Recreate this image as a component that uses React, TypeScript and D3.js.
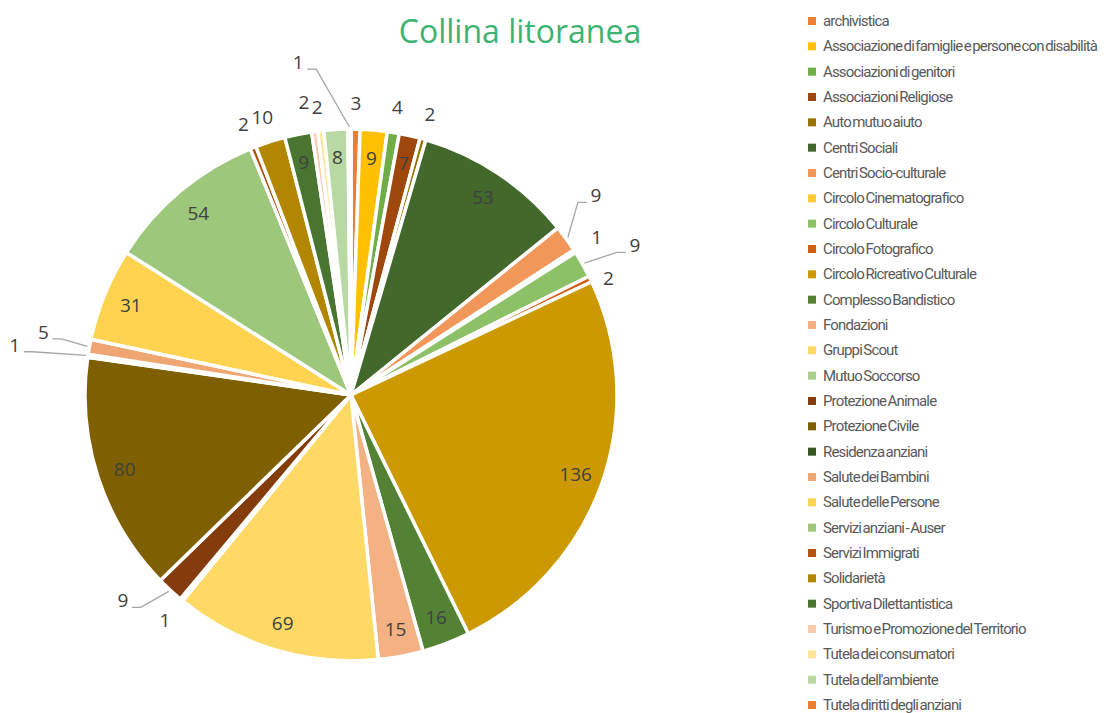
import { useEffect, useRef } from "react";
import * as d3 from "d3";

const CATEGORIES = [
  "archivistica",
  "Associazione di famiglie e persone con disabilità",
  "Associazioni di genitori",
  "Associazioni Religiose",
  "Auto mutuo aiuto",
  "Centri Sociali",
  "Centri Socio-culturale",
  "Circolo Cinematografico",
  "Circolo Culturale",
  "Circolo Fotografico",
  "Circolo Ricreativo Culturale",
  "Complesso Bandistico",
  "Fondazioni",
  "Gruppi Scout",
  "Mutuo Soccorso",
  "Protezione Animale",
  "Protezione Civile",
  "Residenza anziani",
  "Salute dei Bambini",
  "Salute delle Persone",
  "Servizi anziani - Auser",
  "Servizi Immigrati",
  "Solidarietà",
  "Sportiva Dilettantistica",
  "Turismo e Promozione del Territorio",
  "Tutela dei consumatori",
  "Tutela dell'ambiente",
  "Tutela diritti degli anziani",
];

const VALUES = [
  3, 9, 4, 7, 2, 53, 9, 1, 9, 2, 136, 16, 15, 69, 1, 9, 80, 1, 5, 31, 54, 2, 10, 9, 2, 2, 8, 1,
];

const COLORS = [
  "#ed7d31", "#ffc000", "#70ad47", "#9e480e", "#997300", "#43682b", "#f1975a",
  "#ffcd33", "#8cc168", "#d26012", "#cc9a00", "#548235", "#f4b183", "#ffd966",
  "#a9d18e", "#843c0c", "#7f6000", "#375623", "#f0a672", "#ffd34f", "#9dc87c",
  "#b5520e", "#b38600", "#4a7530", "#f8cbad", "#ffe699", "#b9d9a4", "#ed7d31",
];

// labels drawn inside the slice
const INSIDE = new Set([1, 3, 5, 10, 11, 12, 13, 16, 19, 20, 23, 26]);

// labels moved away by hand, with a leader line: [index, angle deg, radius]
const LEADERS: [number, number, number][] = [
  [6, 50.8, 316],
  [8, 62.2, 321],
  [15, 228, 307],
  [17, 278.5, 340],
  [18, 281.6, 314],
  [27, 351, 337],
];

// labels nudged a little, no leader
const NUDGES: [number, number, number][] = [
  [24, 350.9, 297],
  [25, 353.3, 290],
  [9, 65.5, 283],
];

export default function App() {
  const svgRef = useRef<SVGSVGElement | null>(null);

  useEffect(() => {
    const svg = svgRef.current;
    if (!svg) return;
    svg.innerHTML = "";

    const W = 1114;
    const H = 713;
    const cx = 351;
    const cy = 395;
    const R = 266;

    const root = d3.select(svg).attr("width", W).attr("height", H);

    // title
    root
      .append("text")
      .attr("x", 520)
      .attr("y", 43)
      .attr("text-anchor", "middle")
      .style("font-family", "'Open Sans', sans-serif")
      .style("font-size", "32px")
      .attr("fill", "#3cb371")
      .text("Collina litoranea");

    const pie = d3
      .pie<number>()
      .sort(null)
      .value((d) => d);
    const arcs = pie(VALUES);
    const arc = d3.arc<d3.PieArcDatum<number>>().innerRadius(0).outerRadius(R);

    const g = root.append("g").attr("transform", `translate(${cx},${cy})`);

    g.selectAll("path")
      .data(arcs)
      .join("path")
      .attr("d", arc)
      .attr("fill", (_, i) => COLORS[i])
      .attr("stroke", "#fff")
      .attr("stroke-width", 3.5)
      .attr("stroke-linejoin", "round");

    const pt = (angDeg: number, r: number): [number, number] => {
      const a = (angDeg * Math.PI) / 180;
      return [r * Math.sin(a), -r * Math.cos(a)];
    };

    const leaderMap = new Map(LEADERS.map(([i, a, r]) => [i, { a, r }]));
    const nudgeMap = new Map(NUDGES.map(([i, a, r]) => [i, { a, r }]));
    const labelFont = "'Open Sans', sans-serif";

    arcs.forEach((d, i) => {
      const mid = (((d.startAngle + d.endAngle) / 2) * 180) / Math.PI;
      let pos: [number, number];
      const lead = leaderMap.get(i);
      const nudge = nudgeMap.get(i);
      if (INSIDE.has(i)) pos = pt(mid, 238);
      else if (lead) pos = pt(lead.a, lead.r);
      else if (nudge) pos = pt(nudge.a, nudge.r);
      else pos = pt(mid, 292);

      if (lead) {
        const start = pt(mid, R + 2);
        const right = pos[0] > start[0];
        const endX = right ? pos[0] - 9 : pos[0] + 9;
        const elbX = right ? endX - 9 : endX + 9;
        const ly = pos[1] + 7;
        g.append("polyline")
          .attr(
            "points",
            [start, [elbX, ly], [endX, ly]].map((p) => p.join(",")).join(" ")
          )
          .attr("fill", "none")
          .attr("stroke", "#a6a6a6")
          .attr("stroke-width", 1.3);
      }

      g.append("text")
        .attr("x", pos[0])
        .attr("y", pos[1])
        .attr("text-anchor", "middle")
        .attr("dominant-baseline", "central")
        .style("font-family", labelFont)
        .style("font-size", "19px")
        .attr("fill", "#404040")
        .text(VALUES[i]);
    });

    // legend
    const legY = d3
      .scalePoint<string>()
      .domain(CATEGORIES)
      .range([21, 705]);

    const leg = root
      .append("g")
      .selectAll("g")
      .data(CATEGORIES)
      .join("g")
      .attr("transform", (c) => `translate(808,${legY(c)})`);

    leg
      .append("rect")
      .attr("x", 0)
      .attr("y", -4)
      .attr("width", 8)
      .attr("height", 8)
      .attr("fill", (_, i) => COLORS[i]);

    leg
      .append("text")
      .attr("x", 15)
      .attr("y", 0)
      .attr("dominant-baseline", "central")
      .style("font-family", "'Roboto', sans-serif")
      .style("font-size", "15px")
      .style("letter-spacing", "-0.85px")
      .style("word-spacing", "-1.5px")
      .attr("fill", "#595959")
      .text((c) => c);
  }, []);

  return (
    <svg
      ref={svgRef}
      style={{ position: "absolute", left: 0, top: 0, display: "block" }}
    />
  );
}
